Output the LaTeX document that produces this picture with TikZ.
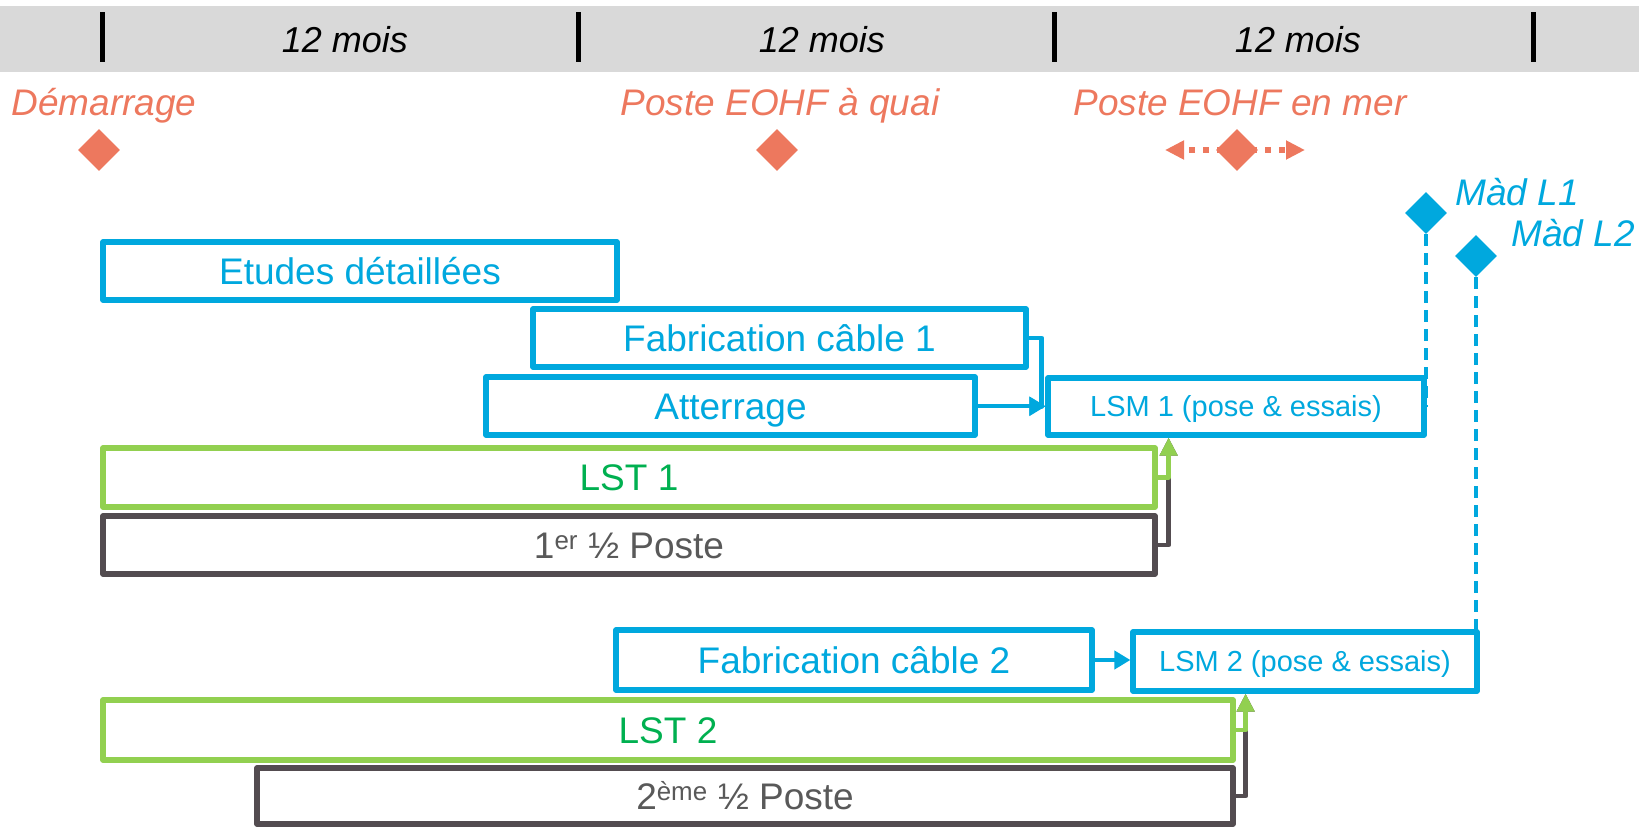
\documentclass[tikz,border=0pt]{standalone}
\usepackage{fontspec}
\setmainfont{Liberation Sans}
\usetikzlibrary{shapes.geometric,arrows.meta}
\definecolor{cblue}{RGB}{0,168,222}
\definecolor{corange}{RGB}{237,120,94}
\definecolor{cgreenl}{RGB}{146,208,80}
\definecolor{cgreent}{RGB}{0,176,80}
\definecolor{cdark}{RGB}{83,76,80}
\definecolor{cdarkt}{RGB}{89,89,89}
\definecolor{cgray}{RGB}{217,217,217}
\tikzset{
  bx/.style={draw, rectangle, line width=5.2pt, line join=round, inner sep=0pt, fill=white, font=\fontsize{37}{44}\selectfont, text height=26.5pt, text depth=0pt},
  bluebox/.style={bx, draw=cblue, text=cblue},
  greenbox/.style={bx, draw=cgreenl, text=cgreent},
  darkbox/.style={bx, draw=cdark, text=cdarkt},
  lsmbox/.style={bluebox, font=\fontsize{29}{34}\selectfont, text height=20.8pt},
  mois/.style={font=\fontsize{36}{42}\selectfont\itshape, text height=25.8pt, text depth=0pt},
  olabel/.style={text=corange, font=\fontsize{37}{44}\selectfont\itshape, text height=26.5pt, text depth=0pt},
  blabel/.style={text=cblue, font=\fontsize{37}{44}\selectfont\itshape, anchor=west, text height=26.5pt, text depth=0pt},
  odia/.style={diamond, aspect=1, fill=corange, inner sep=0pt, minimum size=42pt},
  bdia/.style={diamond, aspect=1, fill=cblue, inner sep=0pt, minimum size=42pt},
  tick/.style={line width=5pt},
  conn/.style={line width=4.8pt, line join=round},
  blueconn/.style={conn, draw=cblue, -{Triangle[length=16pt,width=18pt]}},
  greenconn/.style={conn, draw=cgreenl, -{Triangle[length=18pt,width=17pt]}},
  darkconn/.style={conn, draw=cdark, -{Triangle[length=18pt,width=17pt]}},
  dashconn/.style={draw=cblue, line width=4.8pt, dash pattern=on 12pt off 7pt},
  dotarrow/.style={draw=corange, line width=6pt, dash pattern=on 6pt off 8pt, -{Triangle[length=19pt,width=18pt]}}
}
\begin{document}
\begin{tikzpicture}[x=1pt,y=-1pt]
\useasboundingbox (0,0) rectangle (1639,827);
% top bar
\fill[cgray] (0,6) rectangle (1639,72);
\draw[tick] (102,12) -- (102,62);
\draw[tick] (578,12) -- (578,62);
\draw[tick] (1054,12) -- (1054,62);
\draw[tick] (1533,12) -- (1533,62);
\node[mois] (m1) at (345,40) {12 mois};
\node[mois] (m2) at (822,40) {12 mois};
\node[mois] (m3) at (1298,40) {12 mois};
% milestones
\node[olabel] (ldem) at (104,102) {Démarrage};
\node[olabel] (lquai) at (780,102) {Poste EOHF à quai};
\node[olabel] (lmer) at (1240,102) {Poste EOHF en mer};
\node[odia] (ddem) at (99,150) {};
\node[odia] (dquai) at (777,150) {};
\coordinate (merL) at (1165,150);
\coordinate (merR) at (1305,150);
\coordinate (merC) at (1237,150);
\draw[dotarrow] (merC) -- (merL);
\draw[dotarrow] (merC) -- (merR);
\node[odia] (dmer) at (merC) {};
% boxes
\node[bluebox, minimum width=514pt, minimum height=58pt] (etudes) at (360,271) {Etudes détaillées};
\node[bluebox, minimum width=493pt, minimum height=58pt] (fab1) at (779.5,338) {Fabrication câble 1};
\node[bluebox, minimum width=489pt, minimum height=58pt] (atter) at (730.5,406) {Atterrage};
\node[lsmbox, minimum width=376pt, minimum height=57pt] (lsm1) at (1236,406.5) {LSM 1 (pose \& essais)};
\node[greenbox, minimum width=1052pt, minimum height=59pt] (lst1) at (629,477.5) {LST 1};
\node[darkbox, minimum width=1052pt, minimum height=58pt] (poste1) at (629,545) {1\textsuperscript{er} ½ Poste};
\node[bluebox, minimum width=476pt, minimum height=60pt] (fab2) at (854,660) {Fabrication câble 2};
\node[lsmbox, minimum width=344pt, minimum height=59pt] (lsm2) at (1305,661.5) {LSM 2 (pose \& essais)};
\node[greenbox, minimum width=1130pt, minimum height=60pt] (lst2) at (668,730) {LST 2};
\node[darkbox, minimum width=976pt, minimum height=56pt] (poste2) at (745,796) {2\textsuperscript{ème} ½ Poste};
% Mad milestones
\node[bdia] (mad1) at (1426,213) {};
\node[bdia] (mad2) at (1476,256) {};
\node[blabel] (lmad1) at (1452,192) {Màd L1};
\node[blabel] (lmad2) at (1508,233) {Màd L2};
\draw[dashconn] (mad1.south) -- (mad1.south |- lsm1.east);
\draw[dashconn] (mad2.south) -- (mad2.south |- lsm2.east);
% connectors
\draw[blueconn] (fab1.east) -- ++(13,0) |- (lsm1.west);
\draw[blueconn] (atter.east) -- (atter.east -| lsm1.west);
\draw[darkconn] (poste1.east) -- ++(11,0) coordinate (p1) -- (p1 |- lsm1.south);
\draw[greenconn] (lst1.east) -- ++(11,0) coordinate (g1) -- (g1 |- lsm1.south);
\draw[blueconn] (fab2.east) -- (fab2.east -| lsm2.west);
\draw[darkconn] (poste2.east) -- ++(10,0) coordinate (p2) -- (p2 |- lsm2.south);
\draw[greenconn] (lst2.east) -- ++(10,0) coordinate (g2) -- (g2 |- lsm2.south);
\end{tikzpicture}
\end{document}
